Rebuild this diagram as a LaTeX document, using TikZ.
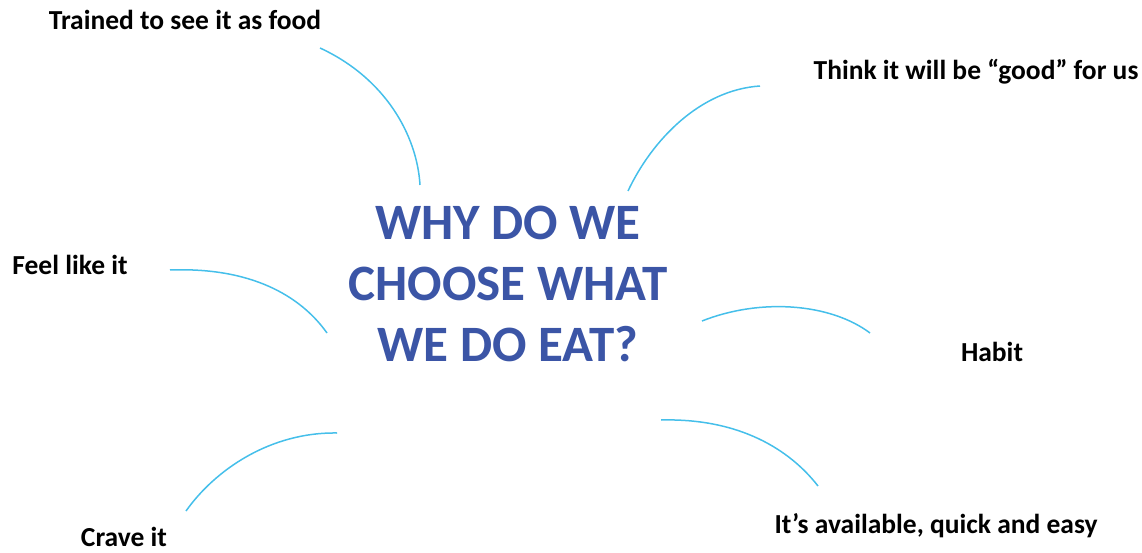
\documentclass[tikz,border=0pt]{standalone}
\usepackage{fontspec}
\setmainfont{Carlito}
\definecolor{titleblue}{HTML}{3B55A6}
\definecolor{linkblue}{HTML}{45BFEA}
\begin{document}
\begin{tikzpicture}[x=1pt,y=-1pt,
  lbl/.style={font=\bfseries\fontsize{27.5}{32}\selectfont, text=black, inner sep=0pt},
  link/.style={draw=linkblue, line width=1.5pt}]
\useasboundingbox (0,0) rectangle (1142,553);
\node[font=\bfseries\fontsize{51}{61}\selectfont, text=titleblue, align=center] (title) at (508,284) {WHY DO WE\\CHOOSE WHAT\\WE DO EAT?};
\node[lbl] (trained) at (185,20) {Trained to see it as food};
\node[lbl] (think) at (976,72) {Think it will be “good” for us};
\node[lbl] (feel) at (70,265) {Feel like it};
\node[lbl] (habit) at (992,352) {Habit};
\node[lbl] (crave) at (124,537) {Crave it};
\node[lbl] (avail) at (936,526) {It’s available, quick and easy};
\coordinate (a1) at (320,48); \coordinate (a2) at (420,185);
\coordinate (b1) at (760,86); \coordinate (b2) at (628,191);
\coordinate (c1) at (170,270); \coordinate (c2) at (327,333);
\coordinate (d1) at (702,321); \coordinate (d2) at (870,333);
\coordinate (e1) at (337,433); \coordinate (e2) at (186,511);
\coordinate (f1) at (661,420); \coordinate (f2) at (818,486);
\draw[link] (a1) .. controls (385,78) and (417,135) .. (a2);
\draw[link] (b1) .. controls (700,90) and (652,140) .. (b2);
\draw[link] (c1) .. controls (250,267) and (300,295) .. (c2);
\draw[link] (d1) .. controls (760,298) and (830,303) .. (d2);
\draw[link] (e1) .. controls (270,432) and (215,470) .. (e2);
\draw[link] (f1) .. controls (740,418) and (790,450) .. (f2);
\end{tikzpicture}
\end{document}
